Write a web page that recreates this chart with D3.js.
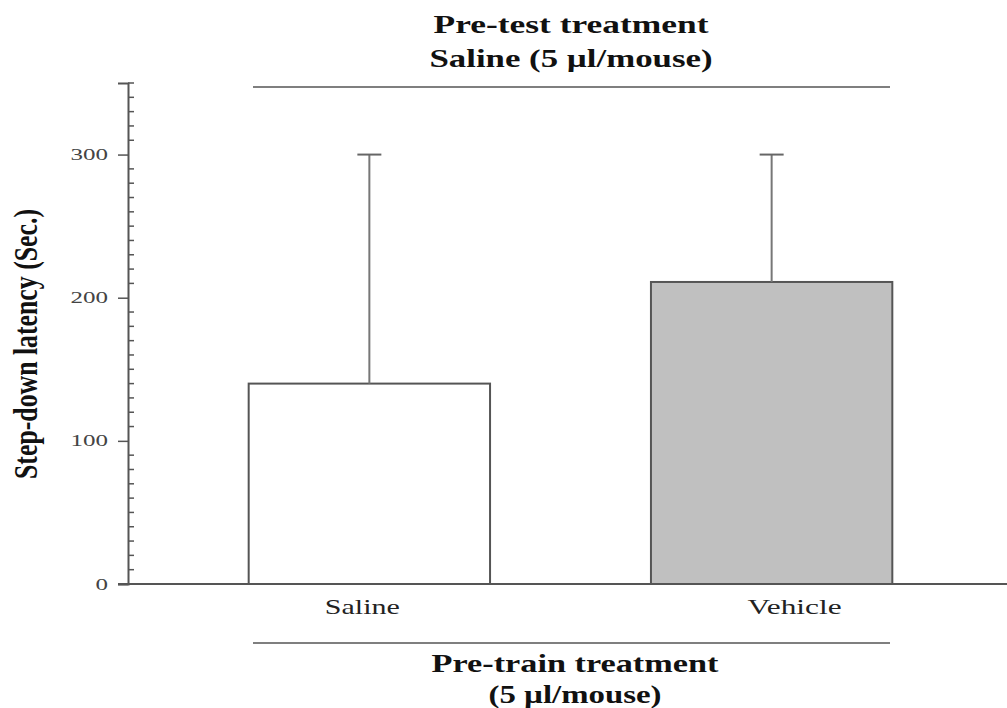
<!DOCTYPE html>
<html>
<head>
<meta charset="utf-8">
<script src="https://cdn.jsdelivr.net/npm/d3@7"></script>
<style>
  body { margin: 0; background: #fff; }
  svg { display: block; }
  text { font-family: "Liberation Serif", "Times New Roman", serif; }
</style>
</head>
<body>
<svg id="chart" width="1007" height="708"></svg>
<script>
// data
const categories = ['Saline', 'Vehicle'];
const means = [140, 211];
const errUpper = [300, 300];
const barFills = ['#ffffff', '#c0c0c0'];
const yTicks = [0, 100, 200, 300];
const topTitle = ['Pre-test treatment', 'Saline (5 \u00b5l/mouse)'];
const bottomTitle = ['Pre-train treatment', '(5 \u00b5l/mouse)'];
const yLabel = 'Step-down latency (Sec.)';

const svg = d3.select('#chart');
const x0 = 128, y0 = 584;

let y = d3.scaleLinear().domain([0, 350]).range([y0, 83]);

let x = d3.scaleBand()
  .domain(categories)
  .range([x0, 1013])
  .paddingInner(0.4)
  .paddingOuter(0.3);

// bars
svg.selectAll('rect.bar')
  .data(categories)
  .enter()
  .append('rect')
  .attr('class', 'bar')
  .attr('x', d => x(d))
  .attr('y', (d, i) => y(means[i]))
  .attr('width', x.bandwidth())
  .attr('height', (d, i) => y(0) - y(means[i]))
  .attr('fill', (d, i) => barFills[i])
  .attr('stroke', '#555')
  .attr('stroke-width', 2);

// error bars (upper only)
let capHalf = 12;
categories.forEach((c, i) => {
  let cx = x(c) + x.bandwidth() / 2;
  svg.append('line')
    .attr('x1', cx).attr('x2', cx)
    .attr('y1', y(means[i])).attr('y2', y(errUpper[i]))
    .attr('stroke', '#777').attr('stroke-width', 2);
  svg.append('line')
    .attr('x1', cx - capHalf).attr('x2', cx + capHalf)
    .attr('y1', y(errUpper[i])).attr('y2', y(errUpper[i]))
    .attr('stroke', '#666').attr('stroke-width', 2);
});

// y axis: major ticks outward, minor ticks inward
let yAxis = d3.axisLeft(y)
  .tickValues(yTicks)
  .tickSize(10)
  .tickPadding(10);

let gy = svg.append('g')
  .attr('transform', 'translate(' + x0 + ',0)')
  .call(yAxis);
gy.select('.domain').attr('stroke', '#555').attr('stroke-width', 2);
gy.selectAll('.tick line').attr('stroke', '#555').attr('stroke-width', 1.5);
gy.selectAll('.tick text')
  .attr('fill', '#444')
  .style('font-size', '16px')
  .style('font-family', '"Liberation Serif", serif')
  .attr('textLength', d => String(d).length * 12.5)
  .attr('lengthAdjust', 'spacingAndGlyphs');

let minor = d3.range(0, 351, 10).filter(v => yTicks.indexOf(v) < 0);
svg.append('g')
  .selectAll('line')
  .data(minor)
  .enter()
  .append('line')
  .attr('x1', x0).attr('x2', x0 + 6)
  .attr('y1', d => y(d)).attr('y2', d => y(d))
  .attr('stroke', '#555').attr('stroke-width', 1.5);

// x axis line
svg.append('line')
  .attr('x1', x0 - 10).attr('x2', 1007)
  .attr('y1', y0).attr('y2', y0)
  .attr('stroke', '#555').attr('stroke-width', 2);

// category labels (slightly off-centre in the original)
let labelShift = [-7, 23];
let labelLen = [75, 94];
svg.selectAll('text.cat')
  .data(categories)
  .enter()
  .append('text')
  .attr('class', 'cat')
  .attr('x', (d, i) => x(d) + x.bandwidth() / 2 + labelShift[i])
  .attr('y', 614)
  .attr('text-anchor', 'middle')
  .attr('fill', '#222')
  .style('font-size', '21px')
  .attr('textLength', (d, i) => labelLen[i])
  .attr('lengthAdjust', 'spacingAndGlyphs')
  .text(d => d);

// group lines
svg.append('line')
  .attr('x1', 253).attr('x2', 890).attr('y1', 87).attr('y2', 87)
  .attr('stroke', '#555').attr('stroke-width', 1.5);
svg.append('line')
  .attr('x1', 253).attr('x2', 890).attr('y1', 643).attr('y2', 643)
  .attr('stroke', '#555').attr('stroke-width', 1.5);

// titles
let cxTitle = 571;
let topLen = [275, 283];
let bottomLen = [287, 173];
topTitle.forEach((t, i) => {
  svg.append('text')
    .attr('x', cxTitle).attr('y', 33 + i * 34)
    .attr('text-anchor', 'middle')
    .attr('font-weight', 'bold')
    .attr('fill', '#111')
    .style('font-size', '26px')
    .attr('textLength', topLen[i])
    .attr('lengthAdjust', 'spacingAndGlyphs')
    .text(t);
});
bottomTitle.forEach((t, i) => {
  svg.append('text')
    .attr('x', cxTitle + 4).attr('y', 672 + i * 31)
    .attr('text-anchor', 'middle')
    .attr('font-weight', 'bold')
    .attr('fill', '#111')
    .style('font-size', '26px')
    .attr('textLength', bottomLen[i])
    .attr('lengthAdjust', 'spacingAndGlyphs')
    .text(t);
});

// y label, stretched sideways like the scanned figure
svg.append('text')
  .attr('transform', 'translate(37,344) scale(1.5,1) rotate(-90)')
  .attr('text-anchor', 'middle')
  .attr('font-weight', 'bold')
  .attr('fill', '#111')
  .style('font-size', '23px')
  .attr('textLength', 270)
  .attr('lengthAdjust', 'spacingAndGlyphs')
  .text(yLabel);
</script>
</body>
</html>
